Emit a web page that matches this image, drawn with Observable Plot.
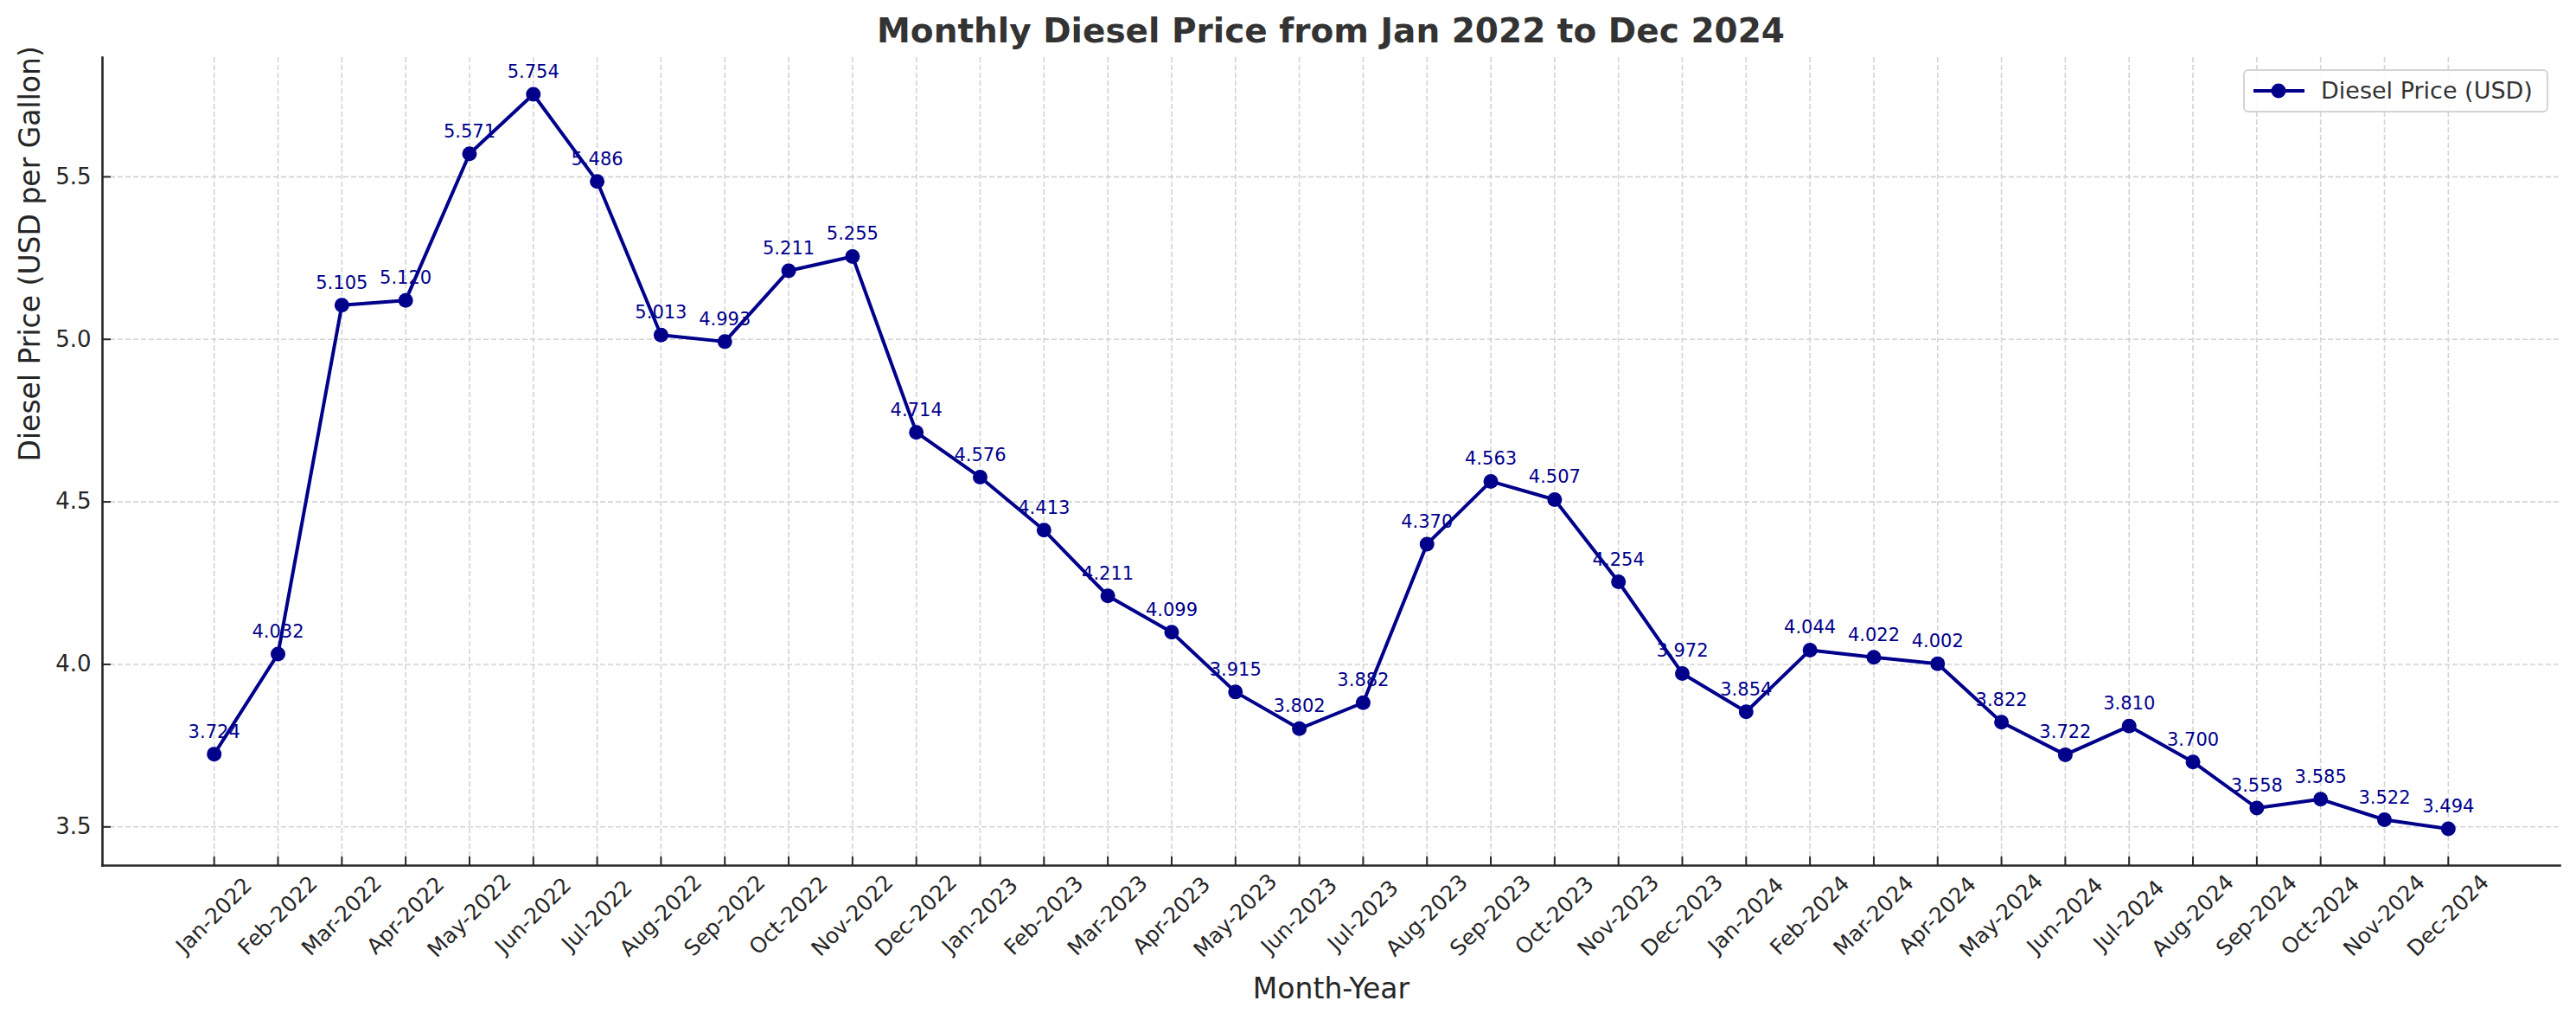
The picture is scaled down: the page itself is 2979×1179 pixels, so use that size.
<!DOCTYPE html>
<html>
<head>
<meta charset="utf-8">
<script src="https://cdn.jsdelivr.net/npm/d3@7"></script>
<script src="https://cdn.jsdelivr.net/npm/@observablehq/plot@0.6"></script>
<style>
  html, body { margin: 0; padding: 0; background: #fff; }
  body { font-family: "DejaVu Sans", sans-serif; }
  #wrap { position: relative; width: 2979px; height: 1179px; overflow: hidden; }
  #title { height: 60px; box-sizing: border-box; padding-top: 12px; padding-left: 118px; padding-right: 19px;
           line-height: 48px; font-size: 39px; font-weight: bold; color: #333; text-align: center; white-space: nowrap; }
  #legend { position: absolute; left: 2594px; top: 80px; width: 353px; height: 50px; box-sizing: border-box;
            border: 2px solid rgba(204,204,204,0.85); border-radius: 6px; background: rgba(255,255,255,0.85); }
  #legend svg { position: absolute; left: 8px; top: 0px; }
  #legend span { position: absolute; left: 88px; top: 0px; line-height: 46px; font-size: 27px; color: #333; white-space: nowrap; }
</style>
</head>
<body>
<div id="wrap">
  <div id="title"></div>
  <div id="chart"></div>
  <div id="legend"></div>
</div>
<script>
// ---- data ----
const titleText = "Monthly Diesel Price from Jan 2022 to Dec 2024";
const xLabel = "Month-Year";
const yLabel = "Diesel Price (USD per Gallon)";
const legendLabel = "Diesel Price (USD)";
const months = [
  "Jan-2022","Feb-2022","Mar-2022","Apr-2022","May-2022","Jun-2022","Jul-2022","Aug-2022","Sep-2022","Oct-2022","Nov-2022","Dec-2022",
  "Jan-2023","Feb-2023","Mar-2023","Apr-2023","May-2023","Jun-2023","Jul-2023","Aug-2023","Sep-2023","Oct-2023","Nov-2023","Dec-2023",
  "Jan-2024","Feb-2024","Mar-2024","Apr-2024","May-2024","Jun-2024","Jul-2024","Aug-2024","Sep-2024","Oct-2024","Nov-2024","Dec-2024"
];
const prices = [
  3.724, 4.032, 5.105, 5.120, 5.571, 5.754, 5.486, 5.013, 4.993, 5.211, 5.255, 4.714,
  4.576, 4.413, 4.211, 4.099, 3.915, 3.802, 3.882, 4.370, 4.563, 4.507, 4.254, 3.972,
  3.854, 4.044, 4.022, 4.002, 3.822, 3.722, 3.810, 3.700, 3.558, 3.585, 3.522, 3.494
];
const yTicks = [3.5, 4.0, 4.5, 5.0, 5.5];

// ---- build ----
const data = months.map((m, i) => ({month: m, price: prices[i]}));
const lineColor = "#00008B";
const ink = "#262626";
const gridColor = "#d4d4d4";
const lo = d3.min(prices), hi = d3.max(prices), pad = (hi - lo) * 0.05;

document.getElementById("title").textContent = titleText;

const chart = Plot.plot({
  width: 2979,
  height: 1119,
  marginTop: 6,
  marginBottom: 179,
  marginLeft: 118,
  marginRight: 19,
  style: {fontFamily: "DejaVu Sans", fontSize: "26px", color: ink, background: "white", overflow: "visible"},
  x: {type: "point", domain: months, padding: 1.75, round: false, align: 0.5},
  y: {domain: [lo - pad, hi + pad]},
  marks: [
    Plot.gridX({stroke: gridColor, strokeOpacity: 1, strokeWidth: 1.6, strokeDasharray: "6,3"}),
    Plot.gridY({ticks: yTicks, stroke: gridColor, strokeOpacity: 1, strokeWidth: 1.6, strokeDasharray: "6,3"}),
    Plot.line(data, {x: "month", y: "price", stroke: lineColor, strokeWidth: 4}),
    Plot.dot(data, {x: "month", y: "price", r: 8.5, fill: lineColor, stroke: null}),
    Plot.text(data, {x: "month", y: "price", text: d => d.price.toFixed(3), dy: -19, lineAnchor: "bottom",
                     fill: lineColor, fontSize: 21}),
    Plot.axisX({tickSize: -10, tickPadding: 68, tickRotate: -45, textAnchor: "middle", lineAnchor: "middle",
                fontSize: 25, color: ink, strokeWidth: 2, label: null}),
    Plot.axisY({ticks: yTicks, tickFormat: ".1f", tickSize: -10, tickPadding: 23, fontSize: 26,
                color: ink, strokeWidth: 2, label: null}),
    Plot.frame({anchor: "left", stroke: ink, strokeWidth: 2.6}),
    Plot.frame({anchor: "bottom", stroke: ink, strokeWidth: 2.6}),
    Plot.text([xLabel], {frameAnchor: "bottom", dy: 153, lineAnchor: "bottom", fontSize: 33, fill: ink}),
    Plot.text([yLabel], {frameAnchor: "left", rotate: -90, dx: -73, lineAnchor: "bottom", fontSize: 33, fill: ink})
  ]
});
document.getElementById("chart").appendChild(chart);

// legend
const lg = document.getElementById("legend");
lg.innerHTML = `<svg width="64" height="46"><line x1="2" x2="61" y1="23" y2="23" stroke="${lineColor}" stroke-width="4"/>` +
  `<circle cx="31" cy="23" r="8.5" fill="${lineColor}"/></svg><span></span>`;
lg.querySelector("span").textContent = legendLabel;
</script>
</body>
</html>
